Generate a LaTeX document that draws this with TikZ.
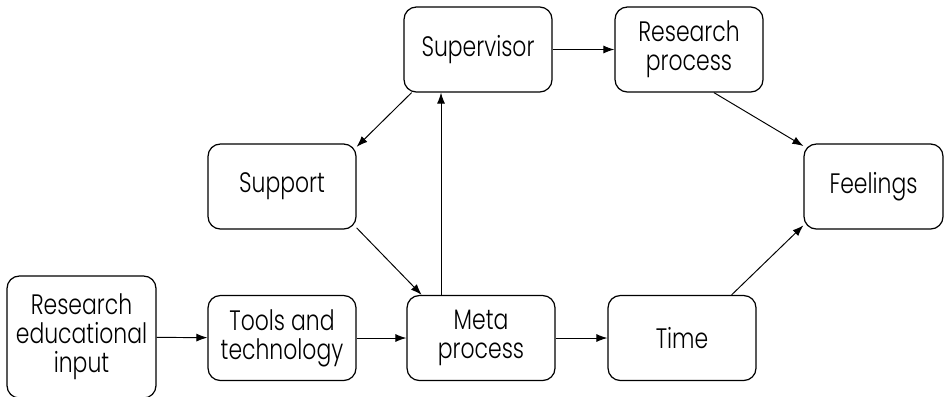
\documentclass[tikz,border=0pt]{standalone}
\usepackage{fontspec}
\setmainfont{Poppins}[UprightFont=* Light, FakeStretch=0.78]
\usetikzlibrary{arrows.meta,positioning}

\begin{document}
\begin{tikzpicture}[
    x=0.02cm,y=-0.02cm,
    block/.style={draw, rounded corners=7pt, align=center, line width=0.7pt,
      font=\fontsize{16}{16.5}\selectfont, minimum width=2.96cm, minimum height=1.7cm,
      inner sep=0pt},
    edge/.style={-{Latex[length=2.2mm,width=1.6mm]}, line width=0.55pt}
  ]
    \useasboundingbox (0,0) rectangle (945,396);

    \node[block] (sup) at (478,49.5) {Supervisor};
    \node[block] (rproc) at (689,49.5) {Research\\process};
    \node[block] (support) at (282,186.5) {Support};
    \node[block, minimum width=2.78cm] (feel) at (873.5,186.5) {Feelings};

    \node[block, minimum width=2.98cm, minimum height=2.44cm] (rin) at (81.5,337)
      {Research\\educational\\input};
    \node[block] (tools) at (282,338) {Tools and\\technology};
    \node[block] (meta) at (481,338) {Meta\\process};
    \node[block] (time) at (682,338) {Time};

    \draw[edge] (rin) -- (tools);
    \draw[edge] (tools) -- (meta);
    \draw[edge] (meta) -- (time);
    \draw[edge] (sup) -- (rproc);

    \draw[edge] (sup.213) -- (support.28);
    \draw[edge] (support.331) -- (meta.144);
    \draw[edge] ([xshift=-8mm]meta.north) -- ([xshift=-8mm]meta.north |- sup.south);
    \draw[edge] (rproc.300) -- (feel.150);
    \draw[edge] (time.41) -- (feel.209);
  \end{tikzpicture}
\end{document}
